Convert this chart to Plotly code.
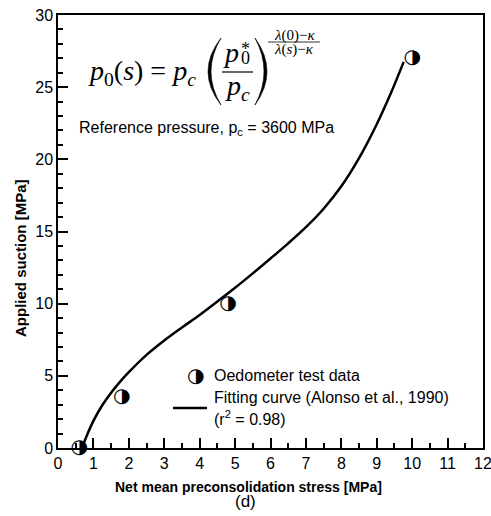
import plotly.graph_objects as go

# oedometer data (net mean preconsolidation stress vs applied suction)
data_x = [0.6, 1.8, 4.8, 10.0]
data_y = [0.0, 3.5, 10.0, 27.0]

# fitting curve (Alonso et al., 1990)
fit_x = [0.68, 0.8, 1.0, 1.25, 1.5, 1.75, 2.0, 2.5, 3.0, 3.5, 4.0, 4.5,
         5.0, 5.5, 6.0, 6.5, 7.0, 7.5, 8.0, 8.5, 9.0, 9.4, 9.76]
fit_y = [0.0, 0.78, 1.88, 2.96, 3.83, 4.58, 5.25, 6.45, 7.45, 8.35, 9.22, 10.15,
         11.1, 12.1, 13.13, 14.18, 15.3, 16.58, 18.13, 20.08, 22.43, 24.59, 26.75]

x_ticks = list(range(0, 13))
y_ticks = list(range(0, 31, 5))

W, H = 491, 516
L, R, T, B = 58, 8, 15, 68
SANS = 'Liberation Sans, Arial, sans-serif'
SERIF = 'Liberation Serif, Times New Roman, serif'


def px(x):  # pixel -> paper x
    return (x - L) / (W - L - R)


def py(y):  # pixel -> paper y
    return (H - B - y) / (H - T - B)


fig = go.Figure()
fig.add_trace(go.Scatter(x=fit_x, y=fit_y, mode='lines', line_shape='spline',
                         line=dict(color='black', width=2.5), hoverinfo='skip'))
fig.add_trace(go.Scatter(x=data_x, y=data_y, mode='text', text=['◑'] * len(data_x),
                         textposition='middle center', cliponaxis=False,
                         textfont=dict(family='DejaVu Sans', size=20, color='black')))

ann = []


def txt(s, x, y, size, family=SANS, xanchor='left', **kw):
    ann.append(dict(text=s, x=px(x), y=py(y), xref='paper', yref='paper',
                    xanchor=xanchor, yanchor='middle', showarrow=False,
                    font=dict(family=family, size=size, color='black'), **kw))


# formula
txt('<i>p</i><sub>0</sub>(<i>s</i>) = <i>p</i><sub><i>c</i></sub>', 86, 72, 28, SERIF)
txt('<i>p</i>', 231, 52, 28, SERIF, 'center')
txt('*', 245, 49, 18, SERIF, 'center')
txt('0', 245, 58, 18, SERIF, 'center')
txt('<i>p</i><sub><i>c</i></sub>', 237, 87, 28, SERIF, 'center')
txt('<i>λ</i>(0)−<i>κ</i>', 294, 35, 15, SERIF, 'center')
txt('<i>λ</i>(<i>s</i>)−<i>κ</i>', 294, 50, 15, SERIF, 'center')

txt('Reference pressure, p<sub>c</sub> = 3600 MPa', 77, 128, 16)

# legend
txt('◑', 195, 375, 20, 'DejaVu Sans', 'center')
txt('Oedometer test data', 212, 375, 16)
txt('Fitting curve (Alonso et al., 1990)', 212, 397, 16)
txt('(r<sup>2</sup> = 0.98)', 212, 418, 16)

txt('<b>Applied suction [MPa]</b>', 20, 258, 15, xanchor='center', textangle=-90)
txt('<b>Net mean preconsolidation stress [MPa]</b>', 248, 487, 14, xanchor='center')
txt('(d)', 245, 501, 17, xanchor='center')


def paren(xt, xo, xi, y0, y1):
    # crescent-shaped delimiter between pixel rows y0 and y1
    return dict(type='path', xref='paper', yref='paper', fillcolor='black',
                line=dict(color='black', width=0.6),
                path=(f'M {px(xt)} {py(y0)} Q {px(xo)} {py((y0 + y1) / 2)} {px(xt)} {py(y1)} '
                      f'Q {px(xi)} {py((y0 + y1) / 2)} {px(xt)} {py(y0)} Z'))


shapes = [
    paren(221, 195, 201, 38, 105),
    paren(255, 279, 273, 38, 105),
    dict(type='line', xref='paper', yref='paper', x0=px(222), x1=px(253), y0=py(72), y1=py(72),
         line=dict(color='black', width=1.2)),
    dict(type='line', xref='paper', yref='paper', x0=px(268), x1=px(320), y0=py(42), y1=py(42),
         line=dict(color='black', width=0.8)),
    dict(type='line', xref='paper', yref='paper', x0=px(173), x1=px(207), y0=py(408), y1=py(408),
         line=dict(color='black', width=2.5)),
]

axis_common = dict(showline=True, linecolor='black', linewidth=1.5, mirror=True,
                   ticks='inside', ticklen=10, tickwidth=1.5, tickcolor='black',
                   showgrid=False, zeroline=False, automargin=False,
                   ticklabeloverflow='allow',
                   tickfont=dict(family=SANS, size=16, color='black'))

fig.update_layout(
    width=W, height=H, margin=dict(l=L, r=R, t=T, b=B),
    paper_bgcolor='white', plot_bgcolor='white', showlegend=False,
    xaxis=dict(range=[0, 12], tickvals=x_ticks,
               minor=dict(dtick=0.5, ticks='inside', ticklen=5, tickcolor='black'),
               **axis_common),
    yaxis=dict(range=[0, 30], tickvals=y_ticks,
               minor=dict(dtick=1, ticks='inside', ticklen=5, tickcolor='black'),
               **axis_common),
    annotations=ann, shapes=shapes,
)

fig.write_html("out.html", config={'displayModeBar': False},
               post_script="document.body.style.margin='0px';")
